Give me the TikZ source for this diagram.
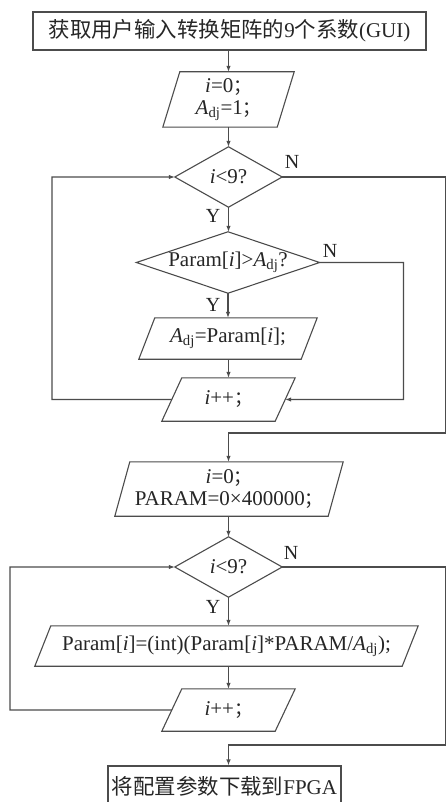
\documentclass[tikz,border=0pt]{standalone}
\usepackage{fontspec}
\setmainfont{Liberation Serif}
\newfontfamily\cjk[Scale=1.02]{Noto Sans CJK SC}
\usetikzlibrary{arrows.meta,calc}
\newcommand{\pgram}[2]{\draw[shapeline] (#1.south west) -- ([xshift=#2pt]#1.north west) -- (#1.north east) -- ([xshift=-#2pt]#1.south east) -- cycle;}
\newcommand{\diam}[1]{\draw[shapeline] (#1.north) -- (#1.east) -- (#1.south) -- (#1.west) -- cycle;}
\newcommand{\fsemi}{{\cjk\fontsize{18}{20}\selectfont ；}}
\begin{document}
\begin{tikzpicture}[x=1pt,y=-1pt,
  every node/.style={font=\fontsize{21}{23}\selectfont, text=black!85, inner sep=0pt, align=center},
  frame/.style 2 args={minimum width=#1pt, minimum height=#2pt, draw=none},
  boxed/.style={draw=black!70, line width=1.1pt},
  shapeline/.style={draw=black!70, line width=1.1pt, line join=miter},
  conn/.style={draw=black!70, line width=1.1pt},
  arr/.style={conn, -{Latex[length=6pt,width=4.5pt]}},
  lbl/.style={font=\fontsize{20}{22}\selectfont}]
\useasboundingbox (0,0) rectangle (446,802);
\fill[white] (0,0) rectangle (446,802);
% nodes
\node[frame={393}{38}, boxed] (b1) at (229.5,31) {{\cjk 获取用户输入转换矩阵的}9{\cjk 个系数}(GUI)};
\node[frame={131}{55}] (p1) at (228.5,99.5) {\textit{i}=0\fsemi\\[-1pt]\textit{A}\textsubscript{dj}=1\fsemi};
\node[frame={107}{60}] (d1) at (228.5,177) {\textit{i}<9?};
\node[frame={183}{61}] (d2) at (228,262.5) {Param[\textit{i}]>\textit{A}\textsubscript{dj}?};
\node[frame={178}{41}] (p3) at (228,338.5) {\textit{A}\textsubscript{dj}=Param[\textit{i}];};
\node[frame={133}{43}] (p4) at (228.5,399.5) {\textit{i}++\fsemi};
\node[frame={228}{54}] (p5) at (229,489) {\textit{i}=0\fsemi\\[-1pt]PARAM=0×400000\fsemi};
\node[frame={107}{60}] (d3) at (228.5,567) {\textit{i}<9?};
\node[frame={383}{40}] (p6) at (226.5,646) {Param[\textit{i}]=(int)(Param[\textit{i}]*PARAM/\textit{A}\textsubscript{dj});};
\node[frame={133}{42}] (p7) at (228.5,710) {\textit{i}++\fsemi};
\node[frame={233}{40}, boxed] (b2) at (224.5,786) {{\cjk 将配置参数下载到}FPGA};
% shapes
\pgram{p1}{17}
\diam{d1}
\diam{d2}
\pgram{p3}{16}
\pgram{p4}{20}
\pgram{p5}{15}
\diam{d3}
\pgram{p6}{16}
\pgram{p7}{20}
% labels
\node[lbl] (y1) at (213,216) {Y};
\node[lbl] (n1) at (292,162) {N};
\node[lbl] (y2) at (213,305) {Y};
\node[lbl] (n2) at (330,251) {N};
\node[lbl] (y3) at (213,607) {Y};
\node[lbl] (n3) at (291,553) {N};
% helper coordinates
\coordinate (p4l) at ($(p4.south west)!0.5!([xshift=20pt]p4.north west)$);
\coordinate (p4r) at ($(p4.north east)!0.5!([xshift=-20pt]p4.south east)$);
\coordinate (p7l) at ($(p7.south west)!0.5!([xshift=20pt]p7.north west)$);
\coordinate (r1) at (445.5,177);
\coordinate (r1b) at (445.5,433);
\coordinate (m1) at (228.5,433);
\coordinate (l1) at (52,399.5);
\coordinate (l1t) at (52,177);
\coordinate (r2) at (403.5,262.5);
\coordinate (r2b) at (403.5,399.5);
\coordinate (r3) at (445.5,567);
\coordinate (r3b) at (445.5,745);
\coordinate (m3) at (228.5,745);
\coordinate (l3) at (10,710);
\coordinate (l3t) at (10,567);
% connectors
\draw[arr] (b1.south -| p1.north) -- (p1.north);
\draw[arr] (p1.south) -- (d1.north);
\draw[arr] (d1.south) -- (d1.south |- d2.north);
\draw[arr] (d2.south) -- (d2.south |- p3.north);
\draw[arr] (p3.south -| p4.north) -- (p4.north);
\draw[arr] (d1.east) -- (r1) -- (r1b) -- (m1) -- (m1 |- p5.north);
\draw[arr] (p4l) -- (l1) -- (l1t) -- (d1.west);
\draw[arr] (d2.east) -- (r2) -- (r2b) -- (p4r);
\draw[arr] (p5.south -| d3.north) -- (d3.north);
\draw[arr] (d3.south) -- (d3.south |- p6.north);
\draw[arr] (p6.south -| p7.north) -- (p7.north);
\draw[arr] (d3.east) -- (r3) -- (r3b) -- (m3) -- (m3 |- b2.north);
\draw[arr] (p7l) -- (l3) -- (l3t) -- (d3.west);
\end{tikzpicture}
\end{document}
